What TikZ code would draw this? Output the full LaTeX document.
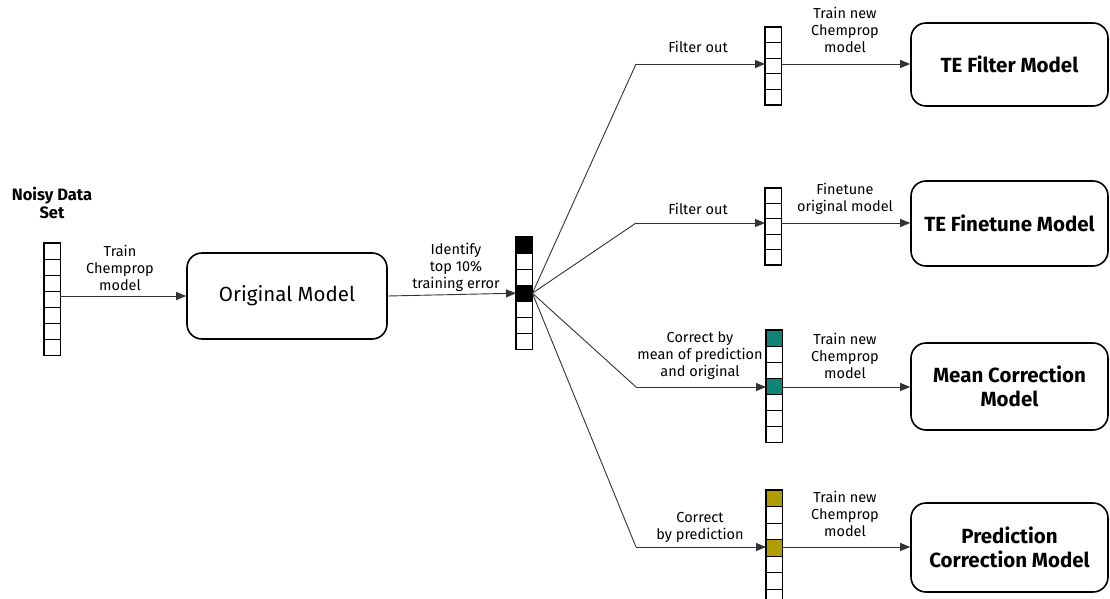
\documentclass[tikz,border=0pt]{standalone}
\usepackage{fontspec}
\setmainfont{Fira Sans}
\usetikzlibrary{arrows.meta}
\definecolor{tealcell}{HTML}{0E8577}
\definecolor{olivecell}{HTML}{B09D00}
\newcommand\datacol[6]{%
  % #1 name, #2 x left, #3 y top, #4 cells, #5 cell height, #6 filled cells idx/colour
  \node[inner sep=0pt, minimum width=16pt, minimum height={#4*#5pt}, anchor=north west] (#1) at (#2,#3) {};
  \foreach \k/\c in {#6} { \fill[\c] (#2,{#3+(\k-1)*#5}) rectangle ++(16,#5); }
  \pgfmathtruncatemacro\lastline{#4-1}
  \foreach \k in {1,...,\lastline} { \draw[cellline] (#2,{#3+\k*#5}) -- ++(16,0); }
  \draw[colframe] (#1.north west) rectangle (#1.south east);
}
\begin{document}
\begin{tikzpicture}[x=1pt,y=-1pt,
  conn/.style={line width=0.9pt, draw=black!80},
  arr/.style={conn, -{Triangle[length=10pt,width=8pt]}},
  cellline/.style={line width=0.8pt, draw=black},
  colframe/.style={line width=1.6pt, draw=black},
  model/.style={draw, line width=1.6pt, rounded corners=15pt, align=center, inner sep=0pt,
    font=\fontsize{20.5}{24}\selectfont\bfseries, minimum width=197pt},
  lbl/.style={align=center, inner sep=0pt, font=\fontsize{14.5}{17}\selectfont},
]
\useasboundingbox (0,0) rectangle (1110,599);

% data columns
\datacol{noisy}{44}{243}{7}{16}{1/white}
\datacol{mid}{516}{237}{7}{16}{1/black,4/black}
\datacol{col1}{765}{27}{5}{15.5}{1/white}
\datacol{col2}{765}{188}{5}{15.3}{1/white}
\datacol{col3}{766}{330}{7}{16}{1/tealcell,4/tealcell}
\datacol{col4}{766}{490}{7}{16.5}{1/olivecell,4/olivecell}

% titles and boxes
\node[align=center, inner sep=0pt, font=\fontsize{16.5}{18}\selectfont\bfseries] (noisytitle) at (52,203) {Noisy Data\\Set};
\node[draw, line width=1.6pt, rounded corners=15pt, inner sep=0pt, minimum width=200pt, minimum height=86pt,
  font=\fontsize{20.5}{24}\selectfont] (orig) at (287,296) {Original Model};

\node[model, minimum height=83pt] (m1) at (1009.5,64.5) {TE Filter Model};
\node[model, minimum height=85pt] (m2) at (1009.5,223.5) {TE Finetune Model};
\node[model, minimum height=87pt] (m3) at (1009.5,386.5) {Mean Correction\\Model};
\node[model, minimum height=89pt] (m4) at (1009.5,547.5) {Prediction\\Correction Model};

% fan points
\coordinate (f1) at (636,64);
\coordinate (f2) at (636,223);
\coordinate (f3) at (636,387);
\coordinate (f4) at (636,547);

% connectors
\draw[arr] (noisy.east |- orig.west) -- (orig.west);
\draw[arr] (orig.east) -- (mid.west);
\foreach \f in {f1,f2,f3,f4} { \draw[conn] (mid.east) -- (\f); }
\draw[arr] (f1) -- (col1.west |- f1);
\draw[arr] (f2) -- (col2.west |- f2);
\draw[arr] (f3) -- (col3.west |- f3);
\draw[arr] (f4) -- (col4.west |- f4);
\draw[arr] (col1.east |- f1) -- (m1.west |- f1);
\draw[arr] (col2.east |- f2) -- (m2.west |- f2);
\draw[arr] (col3.east |- f3) -- (m3.west |- f3);
\draw[arr] (col4.east |- f4) -- (m4.west |- f4);

% labels
\node[lbl] (l0) at (120,268) {Train\\Chemprop\\model};
\node[lbl] (l1) at (456,267) {Identify\\top 10\%\\training error};
\node[lbl] (l2) at (698,47) {Filter out};
\node[lbl] (l3) at (698,209) {Filter out};
\node[lbl] (l4) at (700,356) {Correct by\\mean of prediction\\and original};
\node[lbl] (l5) at (700,527.5) {Correct\\by prediction};
\node[lbl] (r1) at (845,30) {Train new\\Chemprop\\model};
\node[lbl] (r2) at (845,198.5) {Finetune\\original model};
\node[lbl] (r3) at (845,356) {Train new\\Chemprop\\model};
\node[lbl] (r4) at (845,514) {Train new\\Chemprop\\model};
\end{tikzpicture}
\end{document}
